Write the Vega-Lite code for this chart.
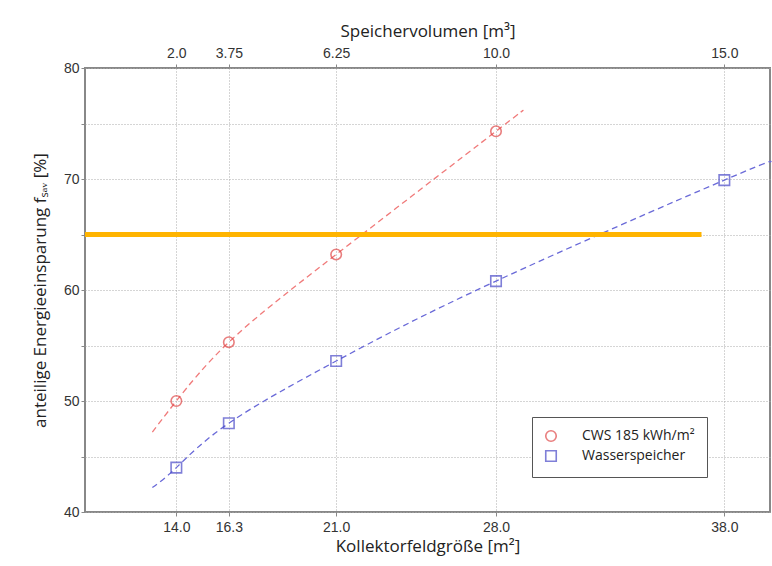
{
  "$schema": "https://vega.github.io/schema/vega-lite/v6.json",
  "width": 685,
  "height": 444,
  "autosize": "none",
  "padding": {"left": 85, "top": 68, "right": 2, "bottom": 54},
  "background": "white",
  "config": {
    "view": {"stroke": "#888888", "strokeWidth": 2},
    "axis": {"labelFont": "Liberation Sans", "labelFontSize": 14, "labelColor": "#333333", "titleFont": "Open Sans", "titleFontSize": 17, "titleFontWeight": "normal", "titleColor": "#222222", "domain": false, "tickColor": "#888888"}
  },
  "datasets": {
    "main": [
      {"series": "CWS 185 kWh/m²", "x": 12.95, "y": 47.2, "kind": "line"},
      {"series": "CWS 185 kWh/m²", "x": 14.0, "y": 50.0, "kind": "point"},
      {"series": "CWS 185 kWh/m²", "x": 16.3, "y": 55.3, "kind": "point"},
      {"series": "CWS 185 kWh/m²", "x": 21.0, "y": 63.2, "kind": "point"},
      {"series": "CWS 185 kWh/m²", "x": 28.0, "y": 74.3, "kind": "point"},
      {"series": "CWS 185 kWh/m²", "x": 29.0, "y": 75.9, "kind": "line"},
      {"series": "Wasserspeicher", "x": 12.95, "y": 42.2, "kind": "line"},
      {"series": "Wasserspeicher", "x": 14.0, "y": 44.0, "kind": "point"},
      {"series": "Wasserspeicher", "x": 16.3, "y": 48.0, "kind": "point"},
      {"series": "Wasserspeicher", "x": 21.0, "y": 53.6, "kind": "point"},
      {"series": "Wasserspeicher", "x": 28.0, "y": 60.8, "kind": "point"},
      {"series": "Wasserspeicher", "x": 38.0, "y": 69.9, "kind": "point"},
      {"series": "Wasserspeicher", "x": 40.0, "y": 71.5, "kind": "line"}
    ],
    "target": [{"x": 10, "x2": 37, "y": 65}]
  },
  "encoding": {
    "y": {
      "field": "y", "type": "quantitative",
      "scale": {"domain": [40, 80], "nice": false, "zero": false},
      "axis": {
        "values": [40, 45, 50, 55, 60, 65, 70, 75, 80],
        "labelExpr": "datum.value % 10 == 0 ? datum.label : ''",
        "grid": true, "gridDash": [1, 2], "gridColor": "#aaaaaa", "gridWidth": 1,
        "tickSize": 4, "labelPadding": 2,
        "title": "anteilige Energieeinsparung fₛₐᵥ [%]", "titlePadding": 14
      }
    }
  },
  "layer": [
    {
      "data": {"name": "main"},
      "transform": [{"filter": "datum.series == 'Wasserspeicher'"}],
      "mark": {"type": "line", "interpolate": "natural", "strokeDash": [6, 4], "strokeWidth": 1.3, "color": "#6a6ad8"},
      "encoding": {
        "x": {
          "field": "x", "type": "quantitative",
          "scale": {"domain": [10, 40], "nice": false, "zero": false},
          "axis": {
            "orient": "bottom", "values": [14, 16.3, 21, 28, 38], "format": ".1f",
            "grid": true, "gridDash": [1, 2], "gridColor": "#aaaaaa",
            "tickSize": 4, "labelPadding": 4,
            "title": "Kollektorfeldgröße [m²]", "titlePadding": 4
          }
        }
      }
    },
    {
      "data": {"name": "main"},
      "transform": [{"filter": "datum.series != 'Wasserspeicher'"}],
      "mark": {"type": "line", "interpolate": "natural", "strokeDash": [6, 4], "strokeWidth": 1.3, "color": "#f07a7a"},
      "encoding": {
        "x": {"field": "x", "type": "quantitative", "axis": null}
      }
    },
    {
      "data": {"name": "main"},
      "transform": [{"filter": "datum.kind == 'point'"}],
      "mark": {"type": "point", "filled": false, "size": 110, "strokeWidth": 1.6},
      "encoding": {
        "x": {
          "field": "x", "type": "quantitative",
          "axis": {
            "orient": "top", "values": [14, 16.3, 21, 28, 38],
            "labelExpr": "datum.value == 14 ? '2.0' : datum.value == 16.3 ? '3.75' : datum.value == 21 ? '6.25' : datum.value == 28 ? '10.0' : '15.0'",
            "grid": false, "tickSize": 4, "labelPadding": 4,
            "title": "Speichervolumen [m³]", "titlePadding": 6
          }
        },
        "color": {
          "field": "series", "type": "nominal",
          "scale": {"domain": ["CWS 185 kWh/m²", "Wasserspeicher"], "range": ["#e04848", "#4a4ac8"]},
          "legend": {
            "title": null, "orient": "none", "legendX": 447, "legendY": 349,
            "labelFont": "Open Sans", "labelFontSize": 14, "labelColor": "#222222",
            "strokeColor": "#555555", "fillColor": "white", "padding": 12,
            "symbolSize": 110, "symbolStrokeWidth": 1.6, "rowPadding": 2, "labelOffset": 24,
            "labelLimit": 220
          }
        },
        "shape": {
          "field": "series", "type": "nominal",
          "scale": {"domain": ["CWS 185 kWh/m²", "Wasserspeicher"], "range": ["circle", "square"]}
        }
      }
    },
    {
      "data": {"name": "target"},
      "mark": {"type": "rule", "color": "#FFB400", "strokeWidth": 5},
      "encoding": {
        "x": {"field": "x", "type": "quantitative", "axis": null},
        "x2": {"field": "x2"}
      }
    }
  ],
  "resolve": {"axis": {"x": "independent"}}
}
